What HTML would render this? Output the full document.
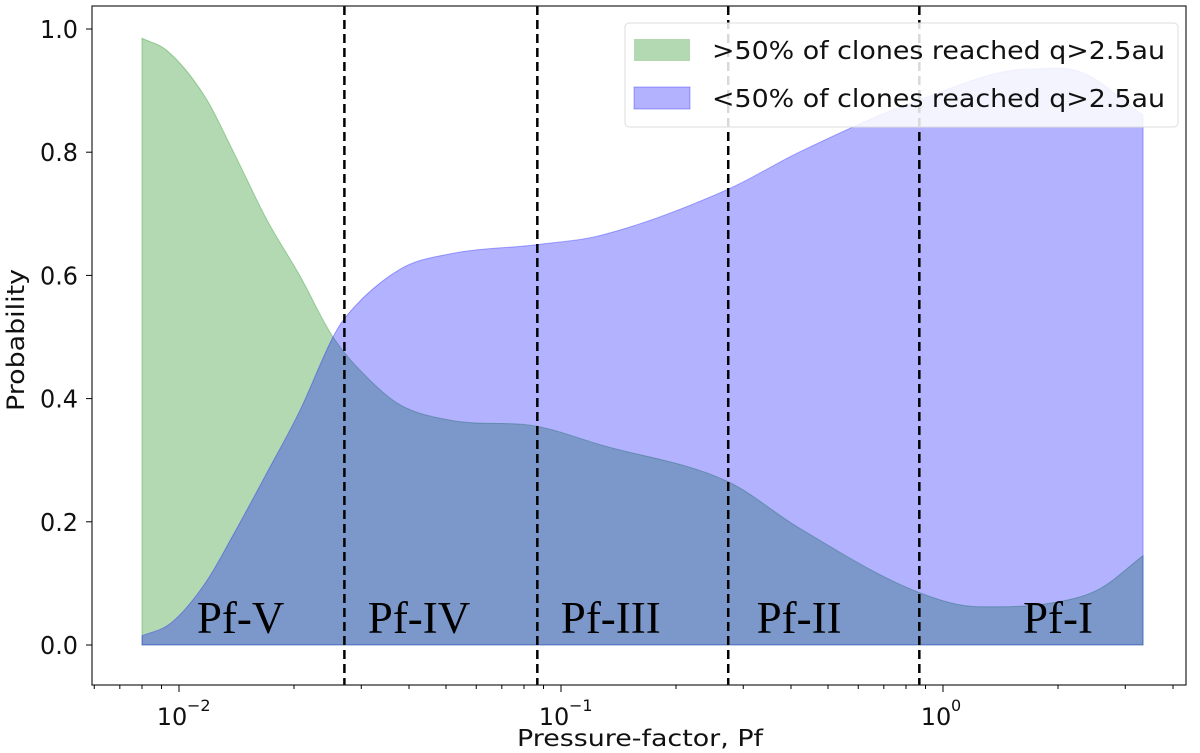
<!DOCTYPE html>
<html><head><meta charset="utf-8"><style>
body{margin:0;background:#fff;}
svg{display:block;font-family:"DejaVu Sans","Liberation Sans",sans-serif;}
</style></head><body>
<svg id="chart" width="1200" height="753"></svg>
<script>
const pfG=[0.008,0.0093,0.0117,0.0139,0.0170,0.0207,0.0253,0.0316,0.0379,0.0512,0.0867,0.127,0.274,0.42,0.867,1.25,1.91,2.55,3.34];
const green=[0.985,0.965,0.89,0.80,0.69,0.60,0.50,0.43,0.39,0.365,0.355,0.325,0.265,0.19,0.085,0.062,0.068,0.09,0.145];
const pfB=[0.008,0.0095,0.0117,0.0139,0.0170,0.0207,0.0253,0.0271,0.0379,0.0512,0.0867,0.127,0.274,0.42,0.867,1.69,2.3,3.34];
const blue=[0.015,0.035,0.10,0.18,0.28,0.38,0.50,0.53,0.61,0.635,0.65,0.665,0.74,0.80,0.885,0.935,0.93,0.86];
const yTicks=[0,0.2,0.4,0.6,0.8,1.0];
const yTickLabels=["0.0","0.2","0.4","0.6","0.8","1.0"];
const xMajor=[0.01,0.1,1];
const xMajorExp=["−2","−1","0"];
const regionBounds=[0.0271,0.0867,0.274,0.867];
const regionNames=["Pf-V","Pf-IV","Pf-III","Pf-II","Pf-I"];
const regionCenters=[0.0145,0.0425,0.135,0.42,2.0];

const NS="http://www.w3.org/2000/svg";
const svg=document.getElementById('chart');
const X=v=>179+382*(Math.log10(v)+2);
const Y=v=>645-616*v;
function el(t,a,p){const e=document.createElementNS(NS,t);for(const k in a)e.setAttribute(k,a[k]);(p||svg).appendChild(e);return e;}
function smooth(pts){const n=pts.length;const m=[];
for(let i=0;i<n;i++){if(i==0)m.push((pts[1][1]-pts[0][1])/(pts[1][0]-pts[0][0]));else if(i==n-1)m.push((pts[n-1][1]-pts[n-2][1])/(pts[n-1][0]-pts[n-2][0]));
else{const d0=(pts[i][1]-pts[i-1][1])/(pts[i][0]-pts[i-1][0]),d1=(pts[i+1][1]-pts[i][1])/(pts[i+1][0]-pts[i][0]);m.push(d0*d1<=0?0:(d0+d1)/2);}}
let d=`M${pts[0][0]},${pts[0][1]}`;
for(let i=0;i<n-1;i++){const h=(pts[i+1][0]-pts[i][0])/3;d+=` C${pts[i][0]+h},${pts[i][1]+m[i]*h} ${pts[i+1][0]-h},${pts[i+1][1]-m[i+1]*h} ${pts[i+1][0]},${pts[i+1][1]}`;}return d;}
function area(xs,ys,fill,stroke,name){const pts=xs.map((v,i)=>[X(v),Y(ys[i])]);
const d=smooth(pts)+` L${X(xs[xs.length-1])},${Y(0)} L${X(xs[0])},${Y(0)} Z`;
const p=el('path',{d,fill,stroke,'stroke-width':1});

}
area(pfG,green,'rgba(0,128,0,0.3)','rgba(0,128,0,0.3)','green-area');
area(pfB,blue,'rgba(0,0,255,0.3)','rgba(0,0,255,0.3)','blue-area');

regionBounds.forEach(b=>{const l=el('line',{x1:X(b),x2:X(b),y1:6,y2:685,stroke:'#000','stroke-width':2.5,'stroke-dasharray':'9,5'});

});
regionNames.forEach((n,i)=>{const t=el('text',{x:X(regionCenters[i]),y:633,'text-anchor':'middle','font-size':45,'font-family':'"Liberation Serif",serif',fill:'#000'});t.textContent=n;

});

const fr=el('rect',{x:92,y:6,width:1094,height:679,fill:'none',stroke:'#222','stroke-width':1.2});


yTicks.forEach((v,i)=>{el('line',{x1:86,x2:92,y1:Y(v),y2:Y(v),stroke:'#000'});
const t=el('text',{x:78,y:Y(v)+9,'text-anchor':'end','font-size':25,fill:'#111',textLength:38,lengthAdjust:'spacingAndGlyphs'});t.textContent=yTickLabels[i];

});
for(let e=-3;e<=0;e++)for(let m=2;m<=9;m++){const v=m*Math.pow(10,e);const x=X(v);if(x>92&&x<1186)el('line',{x1:x,x2:x,y1:685,y2:689,stroke:'#000'});}
xMajor.forEach((v,i)=>{el('line',{x1:X(v),x2:X(v),y1:685,y2:692,stroke:'#000'});
const t=el('text',{x:X(v)-7,y:725,'text-anchor':'middle','font-size':24,fill:'#111'});t.textContent='10';


const s=el('text',{x:X(v)+8,y:711,'text-anchor':'start','font-size':16,fill:'#111'});s.textContent=xMajorExp[i];});
const xl=el('text',{x:640,y:746,'text-anchor':'middle','font-size':23,fill:'#111',textLength:246,lengthAdjust:'spacingAndGlyphs'});xl.textContent='Pressure-factor, Pf';


const yl=el('text',{x:0,y:0,transform:'translate(24,340) rotate(-90)','text-anchor':'middle','font-size':24,fill:'#111',textLength:142,lengthAdjust:'spacingAndGlyphs'});yl.textContent='Probability';



const lg=el('g',{});


el('rect',{x:625,y:23,width:553,height:104,rx:4,fill:'rgba(255,255,255,0.85)',stroke:'#ddd'},lg);
el('rect',{x:634,y:39,width:56,height:22,fill:'rgba(0,128,0,0.3)'},lg);
el('rect',{x:634,y:87,width:56,height:22,fill:'rgba(0,0,255,0.3)',stroke:'rgba(0,0,255,0.3)'},lg);
const t1=el('text',{x:712,y:59,'font-size':25,fill:'#111',textLength:453,lengthAdjust:'spacingAndGlyphs'},lg);t1.textContent='>50% of clones reached q>2.5au';
const t2=el('text',{x:712,y:107,'font-size':25,fill:'#111',textLength:453,lengthAdjust:'spacingAndGlyphs'},lg);t2.textContent='<50% of clones reached q>2.5au';
</script>
</body></html>
